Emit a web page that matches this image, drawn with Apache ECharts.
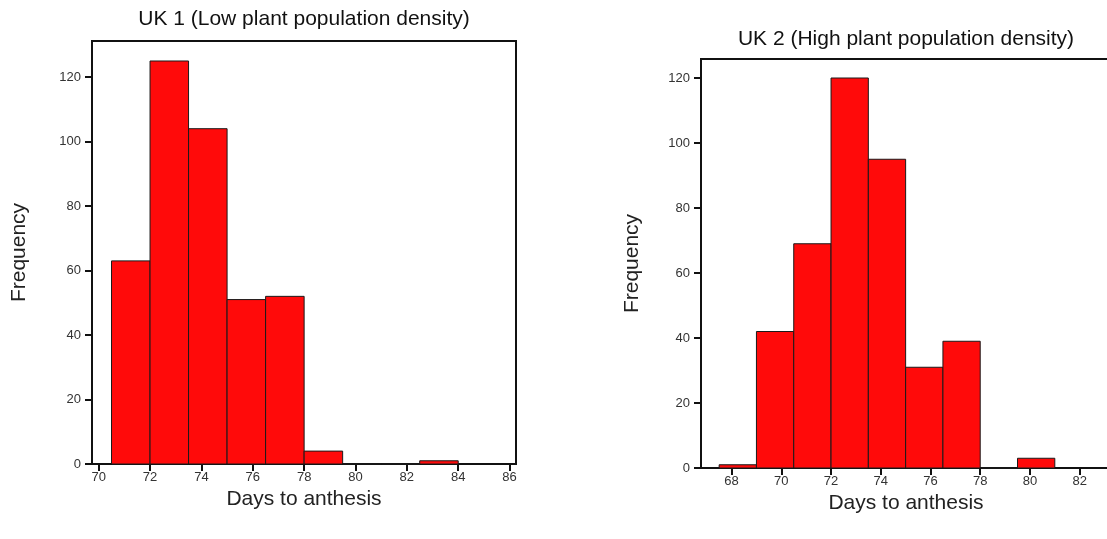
<!DOCTYPE html>
<html>
<head>
<meta charset="utf-8">
<script src="https://cdn.jsdelivr.net/npm/echarts@6/dist/echarts.min.js"></script>
<style>
html,body{margin:0;padding:0;background:#fff;}
#main{width:1107px;height:539px;}
</style>
</head>
<body>
<div id="main"></div>
<script>
// ---- data ----
var title1 = 'UK 1 (Low plant population density)';
var title2 = 'UK 2 (High plant population density)';
var xName = 'Days to anthesis';
var yName = 'Frequency';
var binWidth = 1.5;
var uk1BinStarts = [70.5, 72, 73.5, 75, 76.5, 78, 79.5, 81, 82.5];
var uk1Counts    = [63, 125, 104, 51, 52, 4, 0, 0, 1];
var uk2BinStarts = [67.5, 69, 70.5, 72, 73.5, 75, 76.5, 78, 79.5];
var uk2Counts    = [1, 42, 69, 120, 95, 31, 39, 0, 3];
var uk1XTicks = [70, 72, 74, 76, 78, 80, 82, 84, 86];
var uk2XTicks = [68, 70, 72, 74, 76, 78, 80, 82];
var yTicks = [0, 20, 40, 60, 80, 100, 120];

var FONT = '"Liberation Sans", Arial, sans-serif';
var chart = echarts.init(document.getElementById('main'), null, {renderer: 'canvas'});

function histData(starts, counts) {
  return starts.map(function (s, i) { return [s, s + binWidth, counts[i]]; });
}

function renderBar(params, api) {
  var p0 = api.coord([api.value(0), 0]);
  var p1 = api.coord([api.value(1), api.value(2)]);
  return {
    type: 'rect',
    shape: {x: p0[0], y: p1[1], width: p1[0] - p0[0], height: p0[1] - p1[1]},
    style: {fill: '#ff0a0a', stroke: '#1a1a1a', lineWidth: 1}
  };
}

function xAxisCfg(idx, min, max, ticks, gap) {
  return {
    type: 'value', gridIndex: idx, min: min, max: max,
    name: xName, nameLocation: 'middle', nameGap: gap,
    nameTextStyle: {fontFamily: FONT, fontSize: 21, color: '#222'},
    axisLine: {show: true, onZero: false, lineStyle: {color: '#111', width: 2}},
    axisTick: {show: true, inside: false, length: 7, customValues: ticks, lineStyle: {color: '#111', width: 2}},
    axisLabel: {show: true, margin: 7, customValues: ticks, fontFamily: FONT, fontSize: 13, color: '#333'},
    splitLine: {show: false}
  };
}
function yAxisCfg(idx, max, gap) {
  return {
    type: 'value', gridIndex: idx, min: 0, max: max,
    name: yName, nameLocation: 'middle', nameGap: gap, nameRotate: 90,
    nameTextStyle: {fontFamily: FONT, fontSize: 21, color: '#222'},
    axisLine: {show: true, lineStyle: {color: '#111', width: 2}},
    axisTick: {show: true, inside: false, length: 7, customValues: yTicks, lineStyle: {color: '#111', width: 2}},
    axisLabel: {show: true, margin: 11, customValues: yTicks, fontFamily: FONT, fontSize: 13, color: '#333'},
    splitLine: {show: false}
  };
}

chart.setOption({
  animation: false,
  backgroundColor: '#fff',
  grid: [
    {left: 92, top: 41, width: 424, height: 423, outerBoundsMode: 'none', containLabel: false, show: true, borderColor: '#111', borderWidth: 2, backgroundColor: 'transparent'},
    {left: 701, top: 59, width: 410, height: 409, outerBoundsMode: 'none', containLabel: false, show: true, borderColor: '#111', borderWidth: 2, backgroundColor: 'transparent'}
  ],
  xAxis: [
    xAxisCfg(0, 69.74, 86.25, uk1XTicks, 22),
    xAxisCfg(1, 66.77, 83.26, uk2XTicks, 20)
  ],
  yAxis: [
    yAxisCfg(0, 131.2, 62),
    yAxisCfg(1, 125.85, 58)
  ],
  graphic: [
    {type: 'text', x: 304, y: 19, style: {text: title1, fontFamily: FONT, fontSize: 21, fill: '#111', align: 'center', verticalAlign: 'middle'}},
    {type: 'text', x: 906, y: 39, style: {text: title2, fontFamily: FONT, fontSize: 21, fill: '#111', align: 'center', verticalAlign: 'middle'}}
  ],
  series: [
    {type: 'custom', xAxisIndex: 0, yAxisIndex: 0, renderItem: renderBar, data: histData(uk1BinStarts, uk1Counts), encode: {x: [0, 1], y: 2}},
    {type: 'custom', xAxisIndex: 1, yAxisIndex: 1, renderItem: renderBar, data: histData(uk2BinStarts, uk2Counts), encode: {x: [0, 1], y: 2}}
  ]
});
</script>
</body>
</html>
